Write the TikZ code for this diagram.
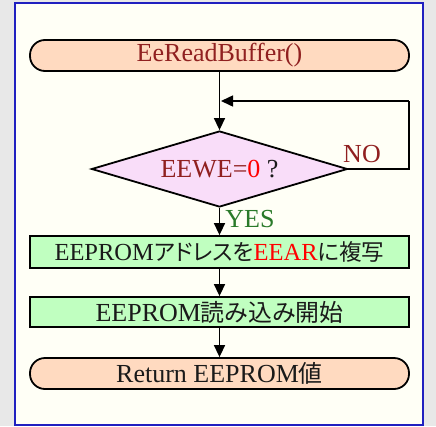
\documentclass[tikz,border=0pt]{standalone}
\usepackage{fontspec}
\setmainfont{Liberation Serif}
\newfontfamily\cjk[Scale=0.92,RawFeature=+palt]{Noto Sans CJK JP}
\usetikzlibrary{shapes.geometric,arrows.meta}
\definecolor{outerbg}{HTML}{E8E8E8}
\definecolor{framebg}{HTML}{FFFFF6}
\definecolor{frameblue}{HTML}{2020C0}
\definecolor{termfill}{HTML}{FFDAC0}
\definecolor{diafill}{HTML}{F9DDF9}
\definecolor{boxfill}{HTML}{C0FFC0}
\definecolor{darkred}{HTML}{902020}
\definecolor{yesgreen}{HTML}{2A7A2A}
\definecolor{boxtext}{HTML}{1A1A1A}
\tikzset{
  txt/.style={font=\fontsize{26}{28}\selectfont},
  terminal/.style={txt, draw=black, line width=1.8pt, fill=termfill, rectangle, rounded corners=15pt,
    minimum width=379pt, minimum height=31pt, inner sep=0pt},
  procbox/.style={txt, draw=black, line width=1.8pt, fill=boxfill, rectangle,
    minimum width=379pt, inner sep=0pt, text=boxtext},
  decision/.style={txt, draw=black, line width=1.8pt, fill=diafill, diamond, aspect=3.37,
    minimum width=256pt, minimum height=76pt, inner sep=0pt},
  flow/.style={draw=black, line width=1.5pt, -{Triangle[length=12pt,width=11pt]}},
  lbl/.style={txt, inner sep=0pt}
}
\begin{document}
\begin{tikzpicture}[x=1pt,y=-1pt]
\useasboundingbox (0,0) rectangle (436,426);
\fill[outerbg] (0,0) rectangle (436,426);
\draw[frameblue, line width=2pt, fill=framebg] (15,3) rectangle (423,425);
\node[terminal, text=darkred] (start) at (219.5,55.5) {EeReadBuffer()};
\node[decision] (dec) at (219.5,169) {\textcolor{darkred}{EEWE=}\textcolor{red}{0}\textcolor{boxtext}{\ ?}};
\node[procbox, minimum height=32pt, font=\fontsize{24.5}{27}\selectfont] (b1) at (219.5,252) {EEPROM{\cjk アドレスを}\textcolor{red}{EEAR}{\cjk に複写}};
\node[procbox, minimum height=30pt] (b2) at (219.5,312) {EEPROM{\cjk 読み込み開始}};
\node[terminal, text=boxtext] (stop) at (219.5,373.5) {Return EEPROM{\cjk 値}};
\coordinate (loopin) at (221,101);
\coordinate (c1) at (409,169);
\coordinate (c2) at (409,101);
\draw[flow] (start) -- (dec);
\draw[line width=1.5pt] (dec.east) -- (c1) -- (c2);
\draw[flow] (c2) -- (loopin);
\draw[flow] (dec) -- (b1);
\draw[flow] (b1) -- (b2);
\draw[flow] (b2) -- (stop);
\node[lbl, text=darkred] (no) at (362,154) {NO};
\node[lbl, text=yesgreen] (yes) at (250,219) {YES};
\end{tikzpicture}
\end{document}
